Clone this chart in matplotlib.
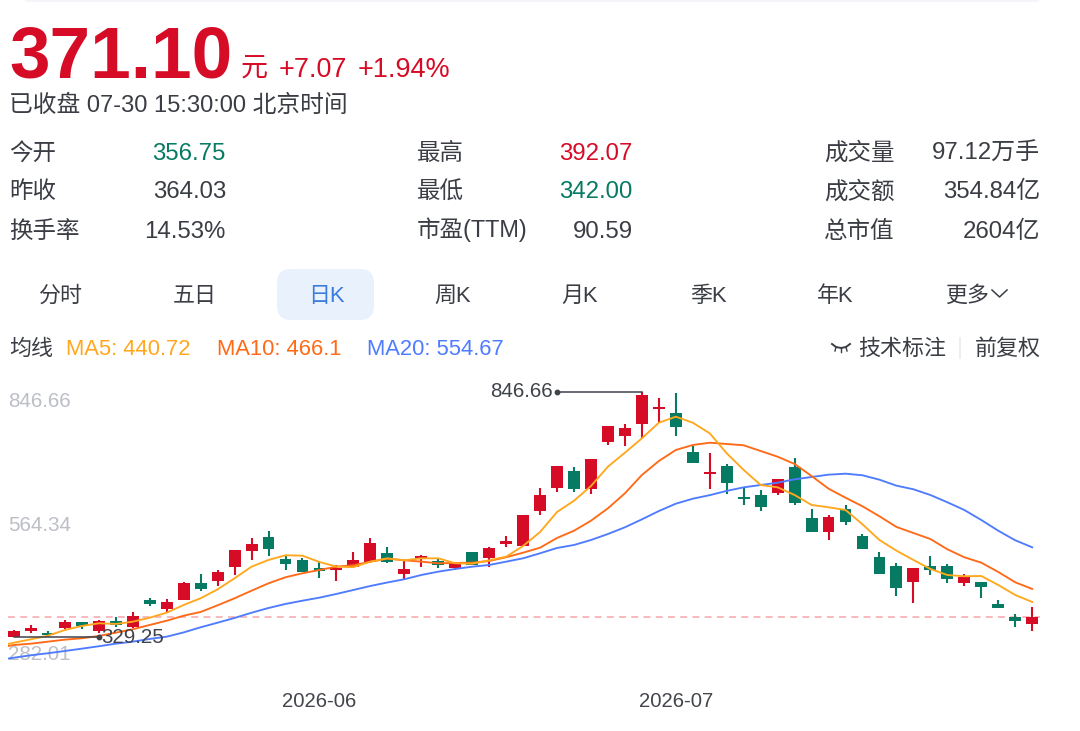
import matplotlib
matplotlib.use("Agg")
import matplotlib.pyplot as plt
from matplotlib.patches import FancyBboxPatch
from matplotlib.transforms import ScaledTranslation

plt.rcParams['font.family'] = ['Liberation Sans', 'Noto Sans CJK SC', 'DejaVu Sans']

opens = [329.5,341.4,338.4,348.3,360.4,342.7,362.5,351.1,407.4,389,407.4,443.9,447.5,477.6,510.1,540.3,494.5,491.8,474.9,471.3,
         477.6,486.9,506.5,461.6,493.2,489,474.9,508,495.3,526.1,521.3,594.5,643.1,680.2,641.4,740,753.9,779.2,809.6,802.4,
         720.1,673.1,690,624.7,629.5,633.7,687.9,579.8,551.6,599.3,542.4,498.7,478.5,446,479.1,479.1,443.9,444.7,399.6,371.5,356.75]
highs = [343.2,355.3,342,365.2,361.6,364.6,370.9,382.1,411,408.9,444.3,462.9,471.3,513.5,537.5,552.3,500.2,495.3,489,481.2,
         509.2,537.5,518.5,491.8,502.3,495.3,485.4,509.2,518.5,542.4,586.4,644.3,689.5,688.6,704.7,775,778.5,846.66,832.7,843.3,
         732.5,716.7,694.2,645.1,639.9,663.2,707.5,599.4,586.8,607.8,547.2,509.3,485.4,474.9,500.2,482.7,461.6,444.7,407.4,377.1,392.07]
lows = [329.25,337.2,329.5,345.6,346.9,338.4,351.1,348.3,394.7,379.4,407,426.4,437.6,459.5,491.1,500.2,470,466.5,454.4,448.1,
        475.5,484.8,484.8,451.1,477,475.5,470.7,480.6,476.6,518.1,521,586,635.3,635.7,630.9,734.9,732.9,749,780,753.2,
        695.7,642.1,630.9,607.5,594.5,629.5,607.1,550.9,534,564.9,515,462.9,416.5,400.4,459.5,443.9,437.6,411,390.5,351.1,342]
closes = [342.7,348.3,333,361,352.6,363.1,354,373,398.3,402.5,443.9,431.2,467.1,513.5,525.5,515,483.3,466.5,467.9,474.9,
          491.8,528.2,488.2,472.8,500.2,481.8,483.3,481.2,517.7,531.8,586,628.2,689.5,641,704.7,775,769.5,839.7,813.8,772.9,
          695.7,676.7,654.9,620.4,603.6,663.2,612.6,550.9,583.2,572.5,515,462.9,432.7,474.9,470,452.3,456.5,434.2,390.5,364.03,371.1]

# moving averages start one session before the first visible candle
ma5 = [309.3,317.3,324.5,332.1,344.1,352.6,358.2,356.8,361.6,370,380.6,396.9,411,429.9,453.2,477.7,491.8,501.7,500.8,487.5,477.7,
       476.6,488.2,495.3,491.1,495.3,495.3,484.8,483.9,491.1,498.7,521.3,550.8,593,616.8,647.8,688.6,718.1,748.4,781.3,794,
       781.3,758.9,716.8,681.6,649.9,645,628.8,607.8,602.9,597.2,567,533.9,511.4,491.8,472.8,460.1,457.4,458,439,417.9,403.2]
ma10 = [306.4,312.5,315.2,319.5,323.7,326.6,331.5,338.4,345.6,354.7,363.7,374.3,382.1,396.2,411,427,442.6,455.3,463.7,470.7,477.7,
        480.6,488.2,494.5,491.1,488.2,484.8,485.4,486.1,489.6,497.5,507.2,517.7,538.2,553.5,574.6,600.8,632.4,671,700.5,723.8,
        734.3,739.1,736.4,733.7,721.6,709.6,694.2,668.9,642.1,623.1,605,583.9,561.4,548.7,536,514.3,497.5,486.1,466.5,444.7,430.6]
ma20 = [280.2,285.7,290.8,295,299.8,304.7,309.8,315.2,319.5,325.2,330,339,349.8,359.5,369.5,380.5,390.5,399,405.9,412.3,420.1,
        428.5,436.9,444.3,451.1,460.1,467.1,472.8,477.6,481.2,488.2,495.3,505.9,517.1,523.4,533.9,546.6,560.7,577.5,595,610.5,
        621,628.5,637.5,645,649.9,654.8,661.9,666.8,671.7,673.8,670.4,661.1,648.5,640.9,628.8,613.5,597.2,576.1,553.5,533.3,518.5]

y_ticks = [846.66, 564.34, 282.01]
x_tick_pos = [18, 39]
x_tick_labels = ['2026-06', '2026-07']
last_close = 371.10
max_high_idx = 37
min_low_idx = 0
leader_bars = 5

stats = [
    ('今开', '356.75', 'g', '最高', '392.07', 'r', '成交量', '97.12万手', 'k'),
    ('昨收', '364.03', 'k', '最低', '342.00', 'g', '成交额', '354.84亿', 'k'),
    ('换手率', '14.53%', 'k', '市盈(TTM)', '90.59', 'k', '总市值', '2604亿', 'k'),
]
tabs = [('分时', 60), ('五日', 195), ('日K', 326), ('周K', 453), ('月K', 580), ('季K', 708), ('年K', 835)]

RED = '#d60b26'
GREEN = '#067a62'
DARK = '#3a3d44'
W, H = 1080, 731
PX = 0.72

fig = plt.figure(figsize=(W / 100, H / 100), dpi=100, facecolor='white')

# page overlay in pixel coordinates
ov = fig.add_axes([0, 0, 1, 1])
ov.set_xlim(0, W)
ov.set_ylim(H, 0)
ov.axis('off')

def t(x, y, s, px=22, c=DARK, ha='left', va='baseline', **kw):
    ov.text(x, y, s, fontsize=px * PX, color=c, ha=ha, va=va, **kw)

ov.add_patch(FancyBboxPatch((24, -6), 1016, 8, boxstyle='round,pad=0,rounding_size=4', fc='#f4f5f8', ec='none'))
t(9, 78, '371.10', px=73, c=RED, fontweight='bold')
t(241, 77, '元', px=27, c=RED)
t(279, 77, '+7.07', px=27, c=RED)
t(358, 77, '+1.94%', px=27, c=RED)
t(9, 112, '已收盘 07-30 15:30:00 北京时间', px=23.8)

cmap = {'g': GREEN, 'r': RED, 'k': DARK}
for row, y in zip(stats, (159.5, 198.5, 237.5)):
    t(9, y, row[0], px=23.5)
    t(226, y, row[1], px=24, c=cmap[row[2]], ha='right')
    t(417, y, row[3], px=23.5)
    t(633, y, row[4], px=24, c=cmap[row[5]], ha='right')
    t(824, y, row[6], px=23.5)
    t(1040, y, row[7], px=24, c=cmap[row[8]], ha='right')

ov.add_patch(FancyBboxPatch((277, 269), 97, 51, boxstyle='round,pad=0,rounding_size=14', fc='#e9f1fd', ec='none'))
for label, x in tabs:
    t(x, 302, label, px=22, c='#3b7ddd' if label == '日K' else DARK, ha='center')
t(945, 302, '更多', px=22)
ov.plot([992, 999.5, 1007], [290, 297, 290], color=DARK, lw=1.1)

t(9, 355, '均线', px=22)
t(66, 355, 'MA5: 440.72', px=22, c='#ffa81e')
t(217, 355, 'MA10: 466.1', px=22, c='#ff6a17')
t(367, 355, 'MA20: 554.67', px=22, c='#4f7cff')
ov.plot([832, 836, 841, 846, 850], [344, 347, 348, 347, 344], color=DARK, lw=1.4)
ov.plot([836, 835], [347, 351], color=DARK, lw=1)
ov.plot([841, 841], [348, 352], color=DARK, lw=1)
ov.plot([846, 847], [347, 351], color=DARK, lw=1)
t(858, 355, '技术标注', px=22)
ov.plot([960, 960], [338, 358], color='#eceef1', lw=1.4)
t(975, 355, '前复权', px=22)

# chart axes: left 8, right 1040, top 380, bottom 668 px
ax = fig.add_axes([8 / W, 1 - 668 / H, (1040 - 8) / W, (668 - 380) / H], facecolor='none')
ax.set_xlim(-0.354, 60.46)
ax.set_ylim(263.9, 871.4)
for s in ax.spines.values():
    s.set_visible(False)

idx = list(range(len(opens)))
colors = [RED if c >= o else GREEN for o, c in zip(opens, closes)]
ax.vlines(idx, lows, highs, colors=colors, lw=1.5, zorder=2)
ax.bar(idx, [max(abs(c - o), 1.5) for o, c in zip(opens, closes)],
       bottom=[min(o, c) for o, c in zip(opens, closes)], width=0.7, color=colors, lw=0, zorder=3)

ma_x = list(range(-1, len(opens)))
ax.plot(ma_x, ma20, color='#4f7cff', lw=1.35, zorder=4)
ax.plot(ma_x, ma10, color='#ff6a17', lw=1.35, zorder=5)
ax.plot(ma_x, ma5, color='#ffa81e', lw=1.35, zorder=6)

ax.axhline(last_close, color='#f6a5a8', lw=1.1, dashes=(4.5, 3.5), zorder=1)

# extremes with leader lines
hi = highs[max_high_idx]
ax.plot([max_high_idx - leader_bars, max_high_idx], [hi, hi], color='#3f434a', lw=1.1, zorder=7)
ax.plot([max_high_idx - leader_bars], [hi], 'o', ms=3.2, color='#3f434a', zorder=7)
ax.annotate(f'{hi:.2f}', (max_high_idx - leader_bars, hi), xytext=(-3, 0), textcoords='offset points',
            ha='right', va='center', fontsize=20.5 * PX, color='#3f434a', zorder=8)
lo = lows[min_low_idx]
ax.plot([min_low_idx, min_low_idx + leader_bars], [lo, lo], color='#3f434a', lw=1.1, zorder=7)
ax.plot([min_low_idx + leader_bars], [lo], 'o', ms=3.2, color='#3f434a', zorder=7)
ax.annotate(f'{lo:.2f}', (min_low_idx + leader_bars, lo), xytext=(1.5, 0), textcoords='offset points',
            ha='left', va='center', fontsize=20.5 * PX, color='#3f434a', zorder=8)

ax.set_yticks(y_ticks)
ax.set_yticklabels([f'{v:.2f}' for v in y_ticks], fontsize=20.6 * PX, color='#bcbfc6')
ax.tick_params(axis='y', length=0, pad=0)
for lab, va, dy in zip(ax.get_yticklabels(), ('top', 'center', 'bottom'), (0, 0, -5)):
    lab.set_ha('left')
    lab.set_va(va)
    lab.set_transform(lab.get_transform() + ScaledTranslation(0, dy / 100, fig.dpi_scale_trans))

ax.set_xticks(x_tick_pos)
ax.set_xticklabels(x_tick_labels, fontsize=20.3 * PX, color='#43464c')
ax.tick_params(axis='x', length=0, pad=17)

fig.savefig('out.png', dpi=100, facecolor='white')
